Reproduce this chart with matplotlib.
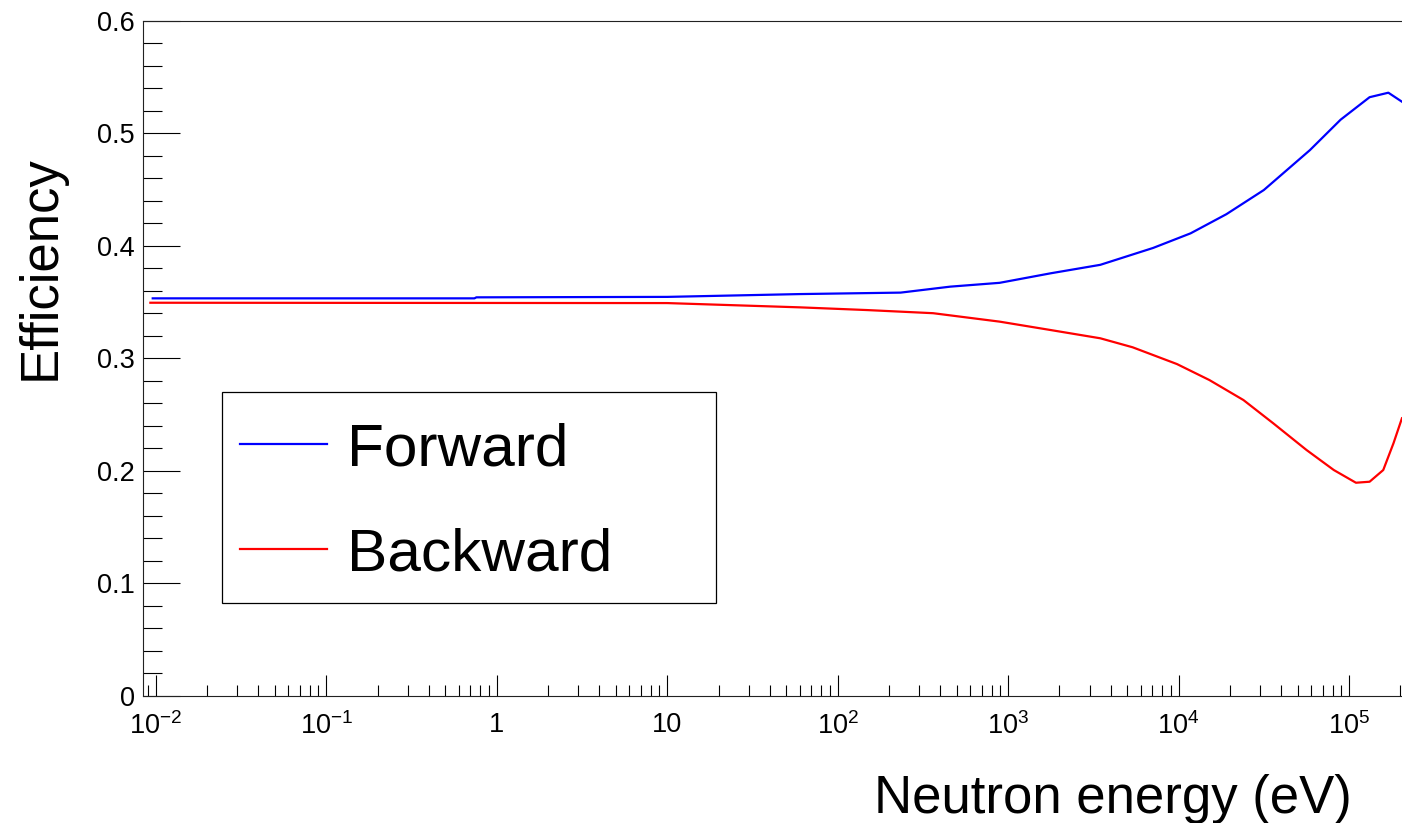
import matplotlib
matplotlib.use("Agg")
import matplotlib.pyplot as plt
from matplotlib.patches import Rectangle
from matplotlib.ticker import FixedLocator, FixedFormatter, LogLocator, MultipleLocator, NullFormatter

plt.rcParams['font.family'] = ['Liberation Sans', 'DejaVu Sans']
plt.rcParams['mathtext.fontset'] = 'custom'
plt.rcParams['mathtext.rm'] = 'Liberation Sans'
plt.rcParams['mathtext.it'] = 'Liberation Sans'

# ---- data ----
forward_energy = [0.0096, 0.74, 0.76, 10, 60, 234, 457, 891, 1780, 3470, 7080,
                  11750, 19050, 31600, 58900, 89100, 131800, 169800, 204000]
forward_eff = [0.3532, 0.3532, 0.3541, 0.3545, 0.3570, 0.3583, 0.3636, 0.3670,
               0.3755, 0.3830, 0.3980, 0.4110, 0.4280, 0.4495, 0.4850, 0.5120,
               0.5320, 0.5360, 0.5280]

backward_energy = [0.0093, 10, 60, 148, 363, 891, 1780, 3470, 5370, 9770, 15140,
                   23990, 35900, 56230, 81280, 109600, 131800, 158500, 182000, 204000]
backward_eff = [0.3493, 0.3490, 0.3452, 0.3428, 0.3400, 0.3325, 0.3250, 0.3177,
                0.3097, 0.2948, 0.2806, 0.2628, 0.2421, 0.2184, 0.2006, 0.1893,
                0.1902, 0.2006, 0.2244, 0.2466]

x_ticks = [1e-2, 1e-1, 1, 10, 1e2, 1e3, 1e4, 1e5]
x_tick_labels = [r'$10^{-2}$', r'$10^{-1}$', '1', '10', r'$10^{2}$', r'$10^{3}$', r'$10^{4}$', r'$10^{5}$']
y_ticks = [0, 0.1, 0.2, 0.3, 0.4, 0.5, 0.6]
y_tick_labels = ['0', '0.1', '0.2', '0.3', '0.4', '0.5', '0.6']

W, H = 1402, 823
fig = plt.figure(figsize=(W / 100, H / 100), dpi=100)
x0, x1, y0, y1 = 143.3, 1402, 20.7, 695.7
ax = fig.add_axes([x0 / W, 1 - y1 / H, (x1 - x0) / W, (y1 - y0) / H])

ax.plot(forward_energy, forward_eff, color='#0000ff', lw=1.6, label='Forward')
ax.plot(backward_energy, backward_eff, color='#ff0000', lw=1.6, label='Backward')

ax.set_xscale('log')
ax.set_xlim(10 ** -2.073, 10 ** 5.31)
ax.set_ylim(0, 0.6)

ax.xaxis.set_major_locator(FixedLocator(x_ticks))
ax.xaxis.set_major_formatter(FixedFormatter(x_tick_labels))
ax.xaxis.set_minor_locator(LogLocator(base=10, subs=range(2, 10), numticks=50))
ax.xaxis.set_minor_formatter(NullFormatter())
ax.yaxis.set_major_locator(FixedLocator(y_ticks))
ax.yaxis.set_major_formatter(FixedFormatter(y_tick_labels))
ax.yaxis.set_minor_locator(MultipleLocator(0.02))

ax.tick_params(axis='x', which='major', direction='in', length=15.4, width=0.8, labelsize=19.5, pad=12)
ax.tick_params(axis='x', which='minor', direction='in', length=8, width=0.8)
ax.tick_params(axis='y', which='major', direction='in', length=26.6, width=0.8, labelsize=19.5, pad=6.3)
ax.tick_params(axis='y', which='minor', direction='in', length=13.7, width=0.8)
ax.tick_params(top=False, right=False, which='both')

for s in ['left', 'bottom', 'top']:
    ax.spines[s].set_linewidth(0.8)
    ax.spines[s].set_color('#222222')
ax.spines['right'].set_visible(False)

fig.text(41 / W, 1 - 267.5 / H, 'Efficiency', rotation=90, ha='center', va='center', fontsize=38)
fig.text(1352 / W, 1 - 813 / H, 'Neutron energy (eV)', ha='right', va='baseline', fontsize=38)

# legend box
ax.add_patch(Rectangle((222 / W, 1 - 603 / H), (716 - 222) / W, (603 - 392) / H,
                       transform=fig.transFigure, fill=True, facecolor='white',
                       edgecolor='black', lw=0.9, zorder=5, clip_on=False))
leg = ax.legend(loc='center left', bbox_to_anchor=(240 / W, 1 - 502.5 / H),
                bbox_transform=fig.transFigure, frameon=False, fontsize=43.5,
                borderpad=0, borderaxespad=0, handlelength=1.44, handletextpad=0.33,
                labelspacing=0.83)
leg.set_zorder(6)

fig.savefig('out.png', dpi=100)
